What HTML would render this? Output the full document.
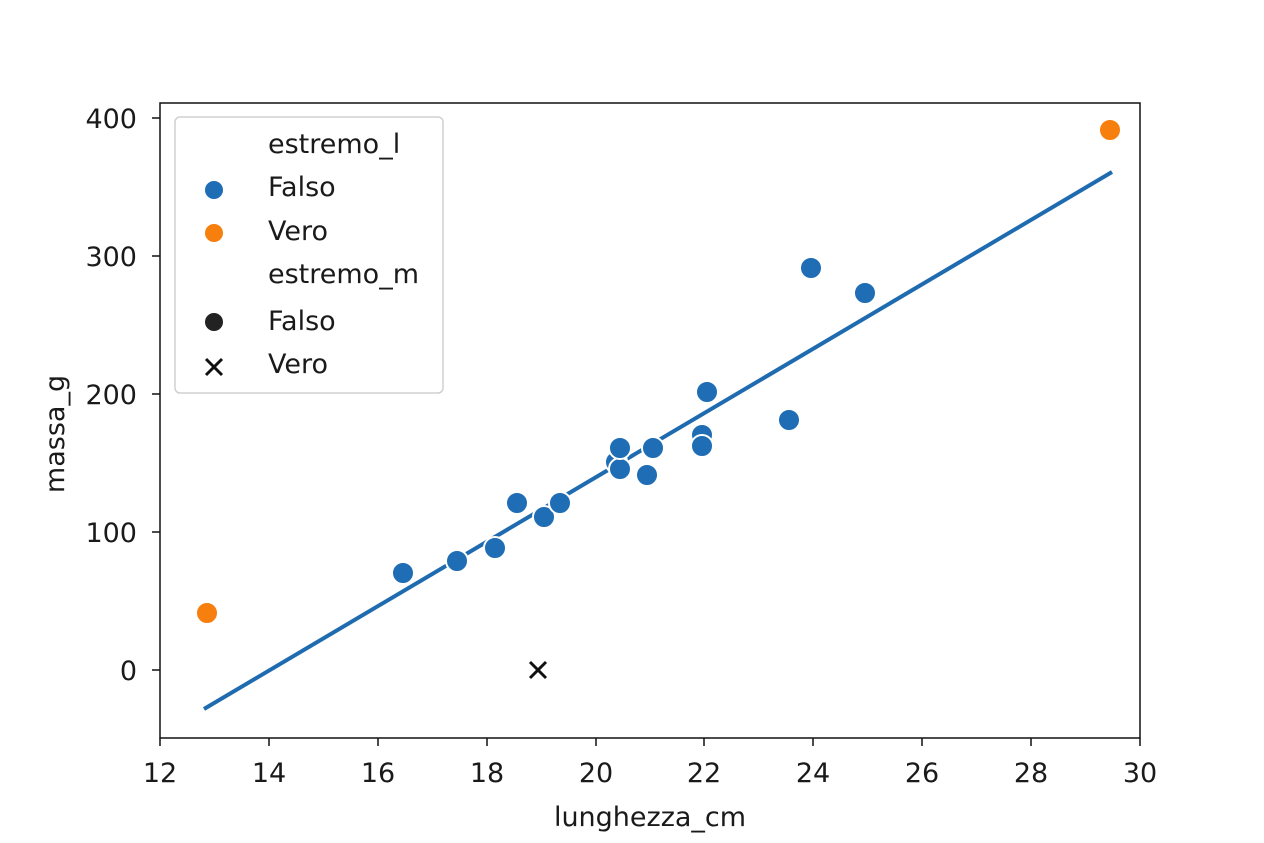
<!DOCTYPE html>
<html><head><style>body{margin:0;background:#fff}svg{display:block}text{font-family:"DejaVu Sans","Liberation Sans",sans-serif;fill:#1a1a1a}</style></head>
<body>
<svg width="1264" height="843" viewBox="0 0 1264 843">
<rect width="1264" height="843" fill="#fff"/>
<line x1="204" y1="709" x2="1112" y2="172" stroke="#1f6bb0" stroke-width="4"/>
<g fill="#1f6db4" stroke="#fff" stroke-width="2">
<circle cx="403" cy="573" r="11"/><circle cx="457" cy="561" r="11"/><circle cx="495" cy="548" r="11"/>
<circle cx="517" cy="503" r="11"/><circle cx="544" cy="517" r="11"/><circle cx="560" cy="503" r="11"/>
<circle cx="616" cy="462" r="11"/><circle cx="620" cy="469" r="11"/><circle cx="620" cy="448" r="11"/>
<circle cx="647" cy="475" r="11"/><circle cx="653" cy="448" r="11"/><circle cx="702" cy="435" r="11"/>
<circle cx="702" cy="446" r="11"/><circle cx="707" cy="392" r="11"/><circle cx="789" cy="420" r="11"/>
<circle cx="811" cy="268" r="11"/><circle cx="865" cy="293" r="11"/>
</g>
<g fill="#f77f0e" stroke="#fff" stroke-width="2"><circle cx="207" cy="613" r="11"/><circle cx="1110" cy="130" r="11"/></g>
<g stroke="#111" stroke-width="3"><line x1="530" y1="662" x2="546" y2="678"/><line x1="546" y1="662" x2="530" y2="678"/></g>
<rect x="160" y="103" width="980" height="635" fill="none" stroke="#111" stroke-width="1.5"/>
<g stroke="#111" stroke-width="1.5">
<line x1="160" y1="738" x2="160" y2="746"/><line x1="269" y1="738" x2="269" y2="746"/><line x1="378" y1="738" x2="378" y2="746"/><line x1="487" y1="738" x2="487" y2="746"/><line x1="596" y1="738" x2="596" y2="746"/><line x1="704" y1="738" x2="704" y2="746"/><line x1="813" y1="738" x2="813" y2="746"/><line x1="922" y1="738" x2="922" y2="746"/><line x1="1031" y1="738" x2="1031" y2="746"/><line x1="1140" y1="738" x2="1140" y2="746"/>
<line x1="152" y1="118" x2="160" y2="118"/><line x1="152" y1="256" x2="160" y2="256"/><line x1="152" y1="394" x2="160" y2="394"/><line x1="152" y1="532" x2="160" y2="532"/><line x1="152" y1="670" x2="160" y2="670"/>
</g>
<g font-size="27" text-anchor="middle">
<text x="160" y="782">12</text><text x="269" y="782">14</text><text x="378" y="782">16</text><text x="487" y="782">18</text><text x="596" y="782">20</text><text x="704" y="782">22</text><text x="813" y="782">24</text><text x="922" y="782">26</text><text x="1031" y="782">28</text><text x="1140" y="782">30</text>
<text x="650" y="826">lunghezza_cm</text>
</g>
<g font-size="27" text-anchor="end">
<text x="137" y="128">400</text><text x="137" y="266">300</text><text x="137" y="404">200</text><text x="137" y="542">100</text><text x="137" y="680">0</text>
</g>
<text font-size="27" text-anchor="middle" transform="translate(64,434) rotate(-90)">massa_g</text>
<rect x="175" y="117" width="268" height="276" rx="5" fill="#fff" stroke="#ccc" stroke-width="1.5" opacity="0.9"/>
<g font-size="27">
<text x="268" y="153">estremo_l</text>
<text x="268" y="196">Falso</text><text x="268" y="240">Vero</text>
<text x="268" y="283">estremo_m</text>
<text x="268" y="330">Falso</text><text x="268" y="373">Vero</text>
</g>
<circle cx="214" cy="190" r="10" fill="#1f6db4" stroke="#fff" stroke-width="2"/>
<circle cx="214" cy="233" r="10" fill="#f77f0e" stroke="#fff" stroke-width="2"/>
<circle cx="214" cy="322" r="10" fill="#222" stroke="#fff" stroke-width="2"/>
<g stroke="#111" stroke-width="3"><line x1="206" y1="359" x2="222" y2="375"/><line x1="222" y1="359" x2="206" y2="375"/></g>
</svg>
</body></html>
